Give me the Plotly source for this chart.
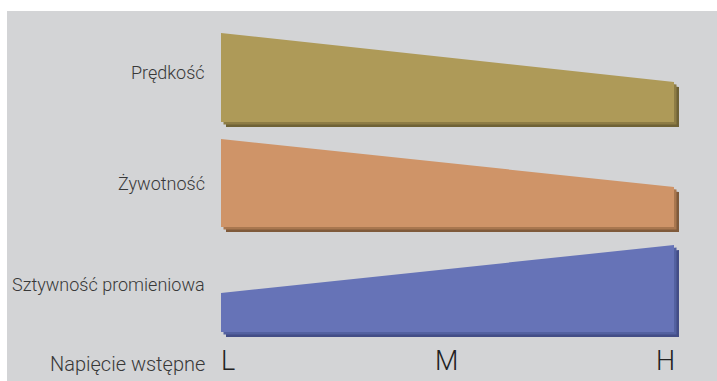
import plotly.graph_objects as go

# Preload levels along the horizontal axis
levels = ["L", "M", "H"]
level_pos = [0, 1, 2]

# Relative magnitude of each property at L / M / H preload
names = ["Prędkość", "Żywotność", "Sztywność promieniowa"]
predkosc = [8.9, 6.45, 4.0]
zywotnosc = [8.8, 6.4, 4.0]
sztywnosc = [3.9, 6.3, 8.7]
series = [predkosc, zywotnosc, sztywnosc]

# Baseline of each band on the vertical axis
baselines = [25.9, 15.4, 4.9]

fill_colors = ["#ae9a58", "#cf9468", "#6673b7"]
edge_mid = ["#8d7c45", "#a9774f", "#5361a0"]
edge_dark = ["#6f6236", "#7f5a3b", "#434d86"]

label_y = [30.9, 19.8, 9.7]

fig = go.Figure()


def band(vals, base, dx=0.0, dy=0.0):
    xs = level_pos + level_pos[::-1]
    ys = [base + v for v in vals] + [base] * len(vals)
    return [x + dx for x in xs] + [xs[0] + dx], [y + dy for y in ys] + [ys[0] + dy]


px_x = 1 / 226.5   # one pixel in x data units
px_y = 0.1         # one pixel in y data units

for vals, base, c, cm, cd in zip(series, baselines, fill_colors, edge_mid, edge_dark):
    # extruded edge drawn behind the face
    for off, col in ((5, cd), (2.5, cm)):
        xs, ys = band(vals, base, off * px_x, -off * px_y)
        fig.add_trace(go.Scatter(x=xs, y=ys, fill="toself", fillcolor=col,
                                 mode="lines", line=dict(width=0, color=col),
                                 hoverinfo="skip", showlegend=False))
    xs, ys = band(vals, base)
    fig.add_trace(go.Scatter(x=xs, y=ys, fill="toself", fillcolor=c,
                             mode="lines", line=dict(width=0, color=c),
                             hoverinfo="skip", showlegend=False))

font_family = "Roboto, 'Noto Sans', sans-serif"
text_color = "#383838"

annotations = []
for n, ly in zip(names, label_y):
    annotations.append(dict(x=0, y=ly, xref="x", yref="y", text=n, showarrow=False,
                            xanchor="right", yanchor="middle", xshift=-14,
                            font=dict(family=font_family, size=18, color=text_color,
                                      weight=300)))
annotations.append(dict(x=0, y=1.7, xref="x", yref="y", text="Napięcie wstępne",
                        showarrow=False, xanchor="right", yanchor="middle", xshift=-14,
                        font=dict(family=font_family, size=20, color=text_color,
                                  weight=300)))
anchors = ["left", "center", "right"]
shifts = [-2, -1, 3]
for lv, xp, an, sh in zip(levels, level_pos, anchors, shifts):
    annotations.append(dict(x=xp, y=2.0, xref="x", yref="y", text=lv, showarrow=False,
                            xanchor=an, yanchor="middle", xshift=sh,
                            font=dict(family=font_family, size=27, color="#222222",
                                      weight=300)))

xmin = -(221 - 7) / 226.5
fig.update_layout(
    width=717, height=381, autosize=False,
    margin=dict(l=7, t=11, r=0, b=0, pad=0),
    paper_bgcolor="white", plot_bgcolor="#d3d4d6",
    xaxis=dict(range=[xmin, xmin + 710 / 226.5], visible=False, fixedrange=True),
    yaxis=dict(range=[0, 37], visible=False, fixedrange=True),
    annotations=annotations,
    showlegend=False,
)

fig.write_html("out.html", config={"displayModeBar": False})
